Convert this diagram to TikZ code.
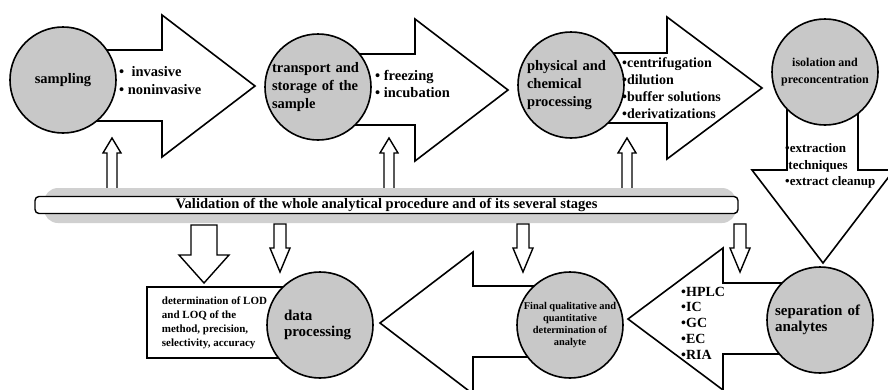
\documentclass[tikz,border=0pt]{standalone}
\usepackage{fontspec}
\setmainfont{Liberation Serif}
\usetikzlibrary{backgrounds}
\definecolor{stagegray}{RGB}{200,200,200}
\definecolor{shadowgray}{RGB}{208,208,208}
\newcommand\fsz[2]{\fontsize{#1}{#2}\selectfont}
\tikzset{
  stage/.style = {circle, draw=black, fill=stagegray, line width=1.6pt,
    minimum size=106pt, inner sep=0pt},% grey stage circle
  blockarr/.style = {draw=black, fill=white, line width=1.6pt,
    line join=miter},% big hollow arrow between stages
  hollow/.style = {draw=black, fill=white, line width=1.4pt},% small hollow arrow
  items/.style = {anchor=west, align=left, inner sep=0pt}% bullet list
}

\begin{document}
\begin{tikzpicture}[x=1pt,y=-1pt]
\useasboundingbox (0,0) rectangle (888,389);

% stages
\node [stage, font=\bfseries\fsz{14.5}{18}] (samp) at (63,80) {sampling};
\node [stage, align=left, text width=92pt, font=\bfseries\fsz{14.5}{18}] (trans) at (318,87)
  {transport and\\storage of the\\sample};
\node [stage, align=left, text width=88pt, font=\bfseries\fsz{14.5}{18}] (phys) at (571,85)
  {physical and\\chemical\\processing};
\node [stage, align=center, font=\bfseries\fsz{12}{17}] (isol) at (825,72)
  {isolation and\\preconcentration};
\node [stage, align=left, text width=90pt, font=\bfseries\fsz{15}{16}] (sep) at (820,320)
  {separation of\\analytes};
\node [stage, align=center, font=\bfseries\fsz{10.4}{12}] (final) at (570,325)
  {Final qualitative and\\quantitative\\determination of\\analyte};
\node [draw, line width=1.4pt, minimum width=135pt, minimum height=71pt, align=left,
  font=\bfseries\fsz{11}{14}] (lod) at (214.5,322.5)
  {determination of LOD\\and LOQ of the\\method, precision,\\selectivity, accuracy};
\node [stage, align=left, text width=72pt, font=\bfseries\fsz{15}{16}] (data) at (320,325)
  {data\\processing};

% big arrows behind the stages
\begin{scope}[on background layer]
\draw[blockarr] (samp |- 0,50) -- (162,50) -- (162,15) -- (255,86) -- (162,157)
  -- (162,121) -- (samp |- 0,121) -- cycle;
\draw[blockarr] (trans |- 0,54) -- (415,54) -- (415,19) -- (508,90) -- (415,161)
  -- (415,125) -- (trans |- 0,125) -- cycle;
\draw[blockarr] (phys |- 0,53) -- (667,53) -- (667,17) -- (762,88) -- (667,159)
  -- (667,123) -- (phys |- 0,123) -- cycle;
\draw[blockarr] (787,0 |- isol) -- (787,170) -- (752,170) -- (823,263) -- (894,170)
  -- (858,170) -- (858,0 |- isol) -- cycle;
\draw[blockarr] (sep |- 0,283) -- (723,283) -- (723,248) -- (628,319) -- (723,390)
  -- (723,354) -- (sep |- 0,354) -- cycle;
\draw[blockarr] (final |- 0,286) -- (473,286) -- (473,252) -- (380,323) -- (473,394)
  -- (473,357) -- (final |- 0,357) -- cycle;
\end{scope}

% lists
\node [items, font=\bfseries\fsz{14.5}{18}] (l1) at (119,81) {•\ \ invasive\\• noninvasive};
\node [items, font=\bfseries\fsz{14.5}{17}] (l2) at (375,83.5) {• freezing\\• incubation};
\node [items, font=\bfseries\fsz{14}{17}] (l3) at (622,88.5)
  {•centrifugation\\•dilution\\•buffer solutions\\•derivatizations};
\node [items, font=\bfseries\fsz{13}{16.5}] (l4) at (785,166)
  {•extraction\\\ techniques\\•extract cleanup};
\node [items, font=\bfseries\fsz{14}{15.7}] (l5) at (681,323) {•HPLC\\•IC\\•GC\\•EC\\•RIA};

% validation bar
\foreach \x in {112,389,627}
  \draw[hollow] (\x-5,192) -- (\x-5,153) -- (\x-9,153) -- (\x,138) -- (\x+9,153)
    -- (\x+5,153) -- (\x+5,192) -- cycle;
\fill[shadowgray, rounded corners=14pt] (44,188) rectangle (736,223);
\node [draw, fill=white, line width=1.4pt, rounded corners=4pt, minimum width=703pt,
  minimum height=17pt, inner sep=0pt, font=\bfseries\fsz{14.5}{16}] (valid) at (386.5,205)
  {Validation of the whole analytical procedure and of its several stages};
\draw[hollow] (191,225) -- (217,225) -- (217,255) -- (229,255) -- (204,283)
  -- (179,255) -- (191,255) -- cycle;
\foreach \x in {280,523,740}
  \draw[hollow] (\x-6,224) -- (\x+6,224) -- (\x+6,248) -- (\x+10,248) -- (\x,272)
    -- (\x-10,248) -- (\x-6,248) -- cycle;
\end{tikzpicture}
\end{document}
